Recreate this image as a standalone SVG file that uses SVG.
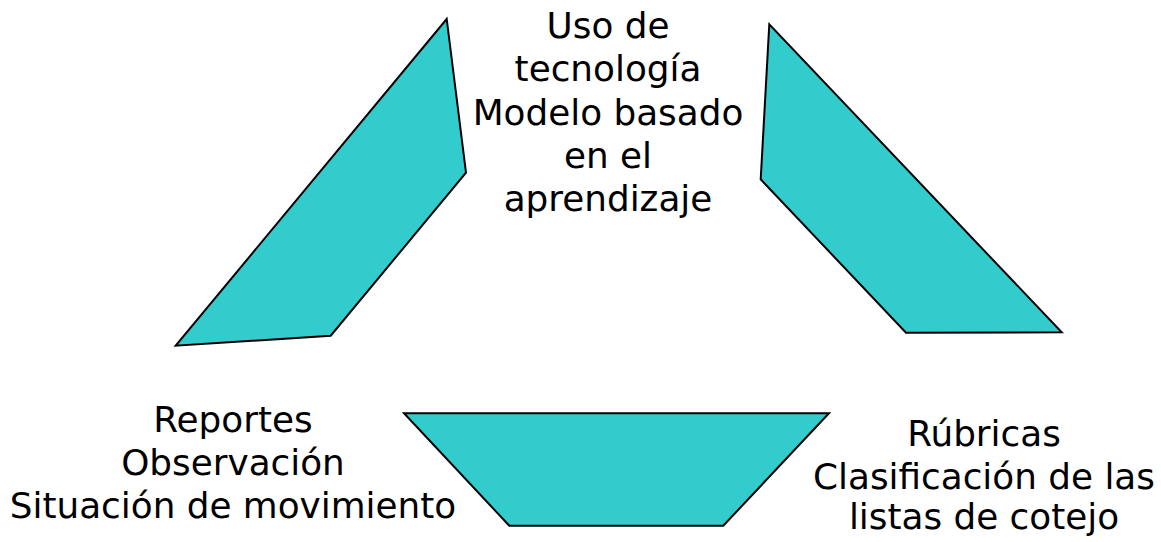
<svg xmlns="http://www.w3.org/2000/svg" width="1161" height="542" viewBox="0 0 1161 542">
<style>
.shape{fill:#33CCCC;stroke:#000;stroke-width:2;stroke-linejoin:miter}
.lbl{font-family:"DejaVu Sans",Verdana,sans-serif;font-size:35.8px;fill:#000;text-anchor:middle}
</style>
<rect width="1161" height="542" fill="#fff"/>
<g id="connectors"></g>
<g id="shape-left"><polygon class="shape" points="446.7,19 466,172.7 330.7,335.7 175.7,345.7"/></g>
<g id="shape-right"><polygon class="shape" points="769.3,24.3 760.7,179.3 906,332.7 1061.7,332.3"/></g>
<g id="shape-bottom"><polygon class="shape" points="404,413.3 829,413.3 723.3,525.7 509.3,525.7"/></g>
<g id="label-top">
<text class="lbl" x="608" y="38">Uso de</text>
<text class="lbl" x="608" y="81">tecnología</text>
<text class="lbl" x="608" y="125">Modelo basado</text>
<text class="lbl" x="608" y="168">en el</text>
<text class="lbl" x="608" y="211">aprendizaje</text>
</g>
<g id="label-left">
<text class="lbl" x="233" y="432">Reportes</text>
<text class="lbl" x="233" y="475">Observación</text>
<text class="lbl" x="233" y="518">Situación de movimiento</text>
</g>
<g id="label-right">
<text class="lbl" x="984" y="446">Rúbricas</text>
<text class="lbl" x="984" y="489">Clasificación de las</text>
<text class="lbl" x="984" y="529">listas de cotejo</text>
</g>
</svg>
